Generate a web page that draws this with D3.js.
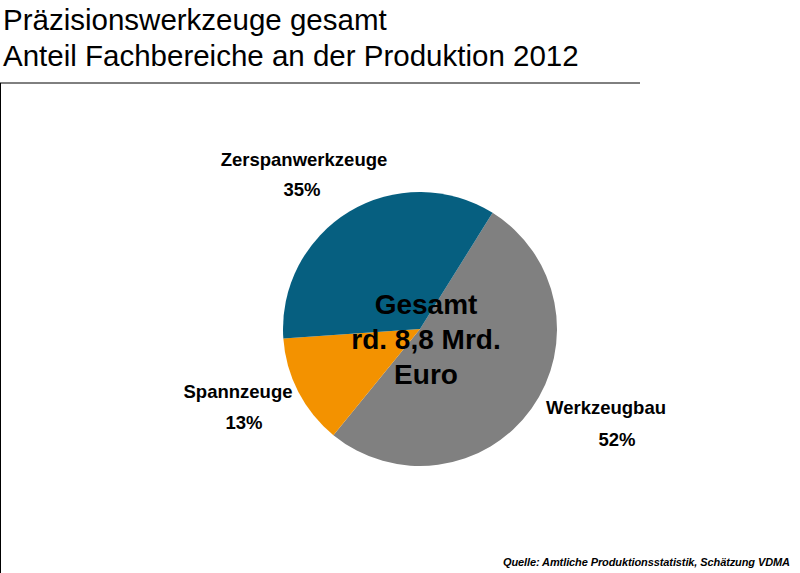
<!DOCTYPE html><html><head><meta charset="utf-8"><script src="https://cdn.jsdelivr.net/npm/d3@7"></script>
<style>body{margin:0;background:#fff}</style></head><body><svg id="c" width="800" height="573"></svg><script>
const categories=["Werkzeugbau","Spannzeuge","Zerspanwerkzeuge"];
const values=[52,13,35];
const colors=["#808080","#f39200","#065f80"];
const svg=d3.select("#c");
const F="Liberation Sans, Arial, sans-serif";
svg.append("text").attr("x",3).attr("y",30).attr("font-family",F).attr("font-size",29.5).text("Präzisionswerkzeuge gesamt");
svg.append("text").attr("x",3).attr("y",66).attr("font-family",F).attr("font-size",29.5).text("Anteil Fachbereiche an der Produktion 2012");
svg.append("line").attr("x1",0).attr("x2",640).attr("y1",83).attr("y2",83).attr("stroke","#000");
svg.append("line").attr("x1",0.5).attr("x2",0.5).attr("y1",83).attr("y2",573).attr("stroke","#000");
const start=32*Math.PI/180;
const pie=d3.pie().sort(null).startAngle(start).endAngle(start+2*Math.PI)(values);
const arc=d3.arc().innerRadius(0).outerRadius(137);
const g=svg.append("g").attr("transform","translate(420,329)");
g.selectAll("path").data(pie).join("path").attr("d",arc).attr("fill",(d,i)=>colors[i]);
const labs=[[606,414,617,446],[238,398,244,429],[304,166,302,196]];
labs.forEach((p,i)=>{
 svg.append("text").attr("x",p[0]).attr("y",p[1]).attr("text-anchor","middle").attr("font-family",F).attr("font-weight","bold").attr("font-size",18.5).text(categories[i]);
 svg.append("text").attr("x",p[2]).attr("y",p[3]).attr("text-anchor","middle").attr("font-family",F).attr("font-weight","bold").attr("font-size",18.5).text(values[i]+"%");
});
["Gesamt","rd. 8,8 Mrd.","Euro"].forEach((t,i)=>svg.append("text").attr("x",426).attr("y",314+i*35).attr("text-anchor","middle").attr("font-family",F).attr("font-weight","bold").attr("font-size",28).text(t));
svg.append("text").attr("x",790).attr("y",566).attr("text-anchor","end").attr("font-family",F).attr("font-weight","bold").attr("font-style","italic").attr("font-size",11).attr("textLength",287).text("Quelle: Amtliche Produktionsstatistik, Schätzung VDMA");
</script></body></html>
